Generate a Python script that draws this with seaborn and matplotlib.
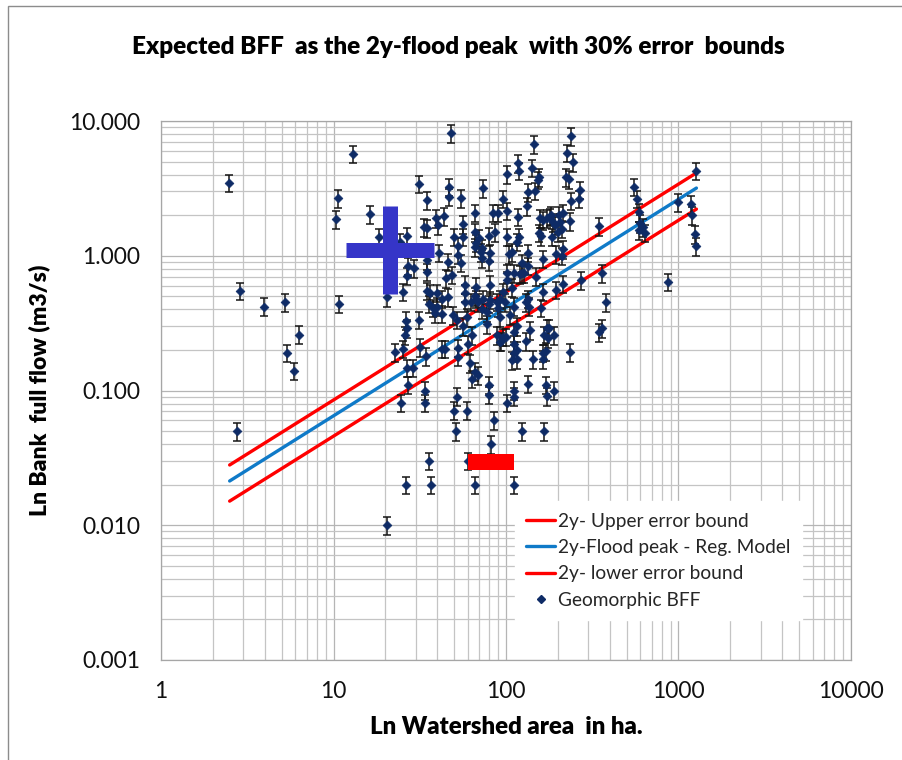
import numpy as np
import pandas as pd
import matplotlib
matplotlib.use('Agg')
import matplotlib.pyplot as plt
from matplotlib.patches import Rectangle
from matplotlib.lines import Line2D
import seaborn as sns

# Geomorphic bank-full flow observations (watershed area in ha, BFF in m3/s)
bff_area = [
    2.48, 2.87, 2.76, 3.95, 5.24, 5.4, 5.9, 6.3, 10.3, 10.6, 10.7, 13.0, 16.3, 18.4,
    20.4, 20.4, 22.7, 24.3, 24.6, 25.3, 25.3, 25.9, 26.3, 26.3, 26.7, 26.7, 26.7, 26.7,
    27.0, 27.0, 28.9, 29.3, 31.3, 31.3, 31.7, 33.5, 34.0, 34.0, 34.4, 34.8, 34.8, 34.8,
    34.8, 34.8, 36.4, 35.7, 35.7, 36.7, 37.7, 38.7, 39.3, 39.8, 40.0, 40.2, 40.9, 42.4,
    42.4, 42.4, 43.7, 44.3, 44.8, 46.0, 46.0, 46.8, 46.8, 48.0, 48.5, 49.0, 50.0, 50.0,
    51.0, 52.0, 52.0, 52.7, 52.7, 53.0, 53.0, 54.8, 54.8, 56.0, 56.0, 56.3, 57.6, 57.6,
    57.6, 59.4, 59.4, 60.0, 60.0, 61.7, 62.6, 63.3, 63.3, 66.0, 66.0, 66.0, 66.0, 66.0,
    66.0, 67.0, 67.0, 67.0, 68.6, 68.6, 69.6, 71.7, 72.7, 72.7, 72.7, 73.6, 73.6, 77.5,
    77.5, 79.6, 79.6, 79.6, 79.6, 79.6, 80.8, 80.8, 81.0, 81.7, 84.0, 85.0, 86.0, 88.7,
    88.7, 90.0, 90.0, 92.0, 92.0, 92.0, 94.0, 96.0, 96.0, 96.0, 98.5, 100, 101, 101,
    101, 101, 102, 102, 104, 105, 108, 109, 109, 111, 111, 111, 112, 112, 112, 112,
    112, 116, 116, 116, 116, 117, 117, 119, 119, 120, 123, 124, 124, 128, 130, 130,
    133, 134, 134, 134, 135, 135, 136, 138, 141, 143, 145, 147, 150, 153, 155, 155,
    157, 160, 160, 163, 163, 164, 164, 164, 166, 166, 170, 170, 172, 172, 172, 175,
    177, 179, 182, 184, 187, 190, 190, 192, 196, 196, 200, 202, 205, 210, 210, 213,
    213, 215, 222, 225, 232, 235, 235, 238, 238, 243, 264, 267, 271, 347, 347, 360,
    362, 380, 550, 573, 590, 590, 600, 620, 640, 870, 1000, 1180, 1200, 1240, 1260, 1260,
]
bff_flow = [
    3.47, 0.55, 0.050, 0.42, 0.45, 0.19, 0.14, 0.26, 1.87, 2.68, 0.44, 5.7, 2.04, 1.38,
    0.010, 0.49, 0.193, 1.26, 0.081, 0.54, 0.204, 0.258, 0.33, 0.020, 1.40, 0.71, 0.29, 0.147,
    0.84, 0.11, 0.147, 0.81, 3.41, 0.335, 0.21, 1.63, 0.10, 0.081, 0.18, 2.59, 1.60, 0.93,
    0.76, 0.55, 0.53, 0.44, 0.030, 0.020, 0.41, 0.375, 1.90, 0.42, 0.53, 1.69, 1.05, 0.48,
    0.37, 0.204, 1.97, 0.204, 0.68, 0.49, 0.90, 3.24, 2.73, 8.1, 0.72, 0.363, 1.38, 0.071,
    0.050, 0.335, 0.090, 1.18, 0.207, 1.02, 0.178, 2.68, 0.885, 1.38, 0.30, 1.72, 0.61, 0.45,
    0.53, 0.35, 0.071, 0.22, 0.030, 0.16, 0.454, 0.258, 0.122, 2.08, 1.50, 1.16, 0.50, 0.138,
    0.020, 0.59, 0.48, 1.25, 0.45, 0.13, 1.36, 1.06, 0.96, 1.14, 0.40, 3.18, 0.48, 0.31,
    0.38, 1.40, 0.914, 0.44, 0.11, 0.093, 0.61, 0.47, 1.05, 0.040, 2.08, 0.060, 1.50, 0.454,
    0.258, 2.08, 0.41, 0.48, 0.35, 0.23, 0.233, 2.64, 0.54, 0.25, 0.45, 0.25, 4.04, 2.15,
    0.74, 0.081, 1.38, 0.66, 1.03, 0.363, 1.06, 0.58, 0.168, 0.42, 0.27, 0.22, 0.74, 0.19,
    0.10, 0.09, 0.020, 1.27, 0.30, 0.20, 0.17, 4.87, 1.94, 4.26, 1.38, 0.73, 0.050, 0.885,
    0.74, 0.74, 0.45, 0.233, 2.34, 1.05, 0.84, 0.48, 2.97, 0.112, 0.42, 0.28, 4.49, 0.17,
    6.75, 3.03, 0.70, 3.65, 3.84, 1.48, 1.90, 1.40, 0.41, 0.19, 0.17, 1.84, 0.95, 0.54,
    0.258, 0.050, 0.196, 0.11, 1.90, 0.29, 0.091, 0.245, 0.29, 1.94, 2.0, 1.38, 1.78, 0.258,
    0.10, 1.69, 1.03, 0.56, 1.50, 2.0, 1.78, 1.58, 1.0, 2.08, 1.12, 0.62, 3.84, 5.8,
    3.70, 1.81, 0.193, 7.74, 2.55, 4.96, 2.64, 3.08, 0.66, 1.66, 0.27, 0.74, 0.29, 0.45,
    3.24, 2.64, 2.11, 1.55, 1.75, 1.63, 1.48, 0.64, 2.5, 2.42, 2.0, 1.45, 4.26, 1.18,
]
bff_err_frac = 0.15

# 2y flood peak regression model and 30% bounds (end points)
line_area = [2.5, 1270]
peak_model = [0.0213, 3.18]
upper_bound = [0.028, 4.12]
lower_bound = [0.0151, 2.22]

# highlighted markers
plus_area = [21.3]
plus_flow = [1.10]
rect_area = [82.4]
rect_flow = [0.0297]

x_ticks = [1, 10, 100, 1000, 10000]
x_labels = ['1', '10', '100', '1000', '10000']
y_ticks = [0.001, 0.01, 0.1, 1, 10]
y_labels = ['0.001', '0.010', '0.100', '1.000', '10.000']

sns.set_style('white')
plt.rcParams['font.family'] = ['Lato', 'DejaVu Sans']

fig = plt.figure(figsize=(9.03, 7.6), dpi=100)
ax = fig.add_axes([161 / 903, 100 / 760, 690 / 903, 539 / 760])
ax.set_xscale('log')
ax.set_yscale('log')
ax.set_xlim(1, 10000)
ax.set_ylim(0.001, 10)

# grid
ax.grid(True, which='major', color='#b5b5b5', lw=0.9)
ax.grid(True, which='minor', color='#c4c4c4', lw=0.9)
ax.set_axisbelow(True)

red = '#ff0000'
blue = '#0f7ac8'
navy = '#0e2b66'

sns.lineplot(x=line_area, y=upper_bound, color=red, lw=2.4, ax=ax, zorder=3)
sns.lineplot(x=line_area, y=peak_model, color=blue, lw=2.4, ax=ax, zorder=3)
sns.lineplot(x=line_area, y=lower_bound, color=red, lw=2.4, ax=ax, zorder=3)

df = pd.DataFrame({'area': bff_area, 'flow': bff_flow})
ax.errorbar(df['area'], df['flow'], yerr=bff_err_frac * df['flow'], fmt='none',
            ecolor='#151515', elinewidth=1.1, capsize=2.7, capthick=1.1, zorder=4)
sns.scatterplot(data=df, x='area', y='flow', marker='D', s=20, color=navy,
                edgecolor=navy, linewidth=0.5, ax=ax, zorder=5)

ax.plot(plus_area, plus_flow, ls='none', marker='+', ms=63, mew=10.8,
        color='#3535c8', zorder=6)
rect_marker = [(-3, -1), (3, -1), (3, 1), (-3, 1), (-3, -1)]
ax.plot(rect_area, rect_flow, ls='none', marker=rect_marker, ms=32.5,
        color=red, mec=red, mew=0, zorder=6)

ax.set_xticks(x_ticks)
ax.set_xticklabels(x_labels)
ax.set_yticks(y_ticks)
ax.set_yticklabels(y_labels)
ax.tick_params(axis='both', which='major', direction='out', length=6, width=0.8,
               color='#8c8c8c', labelsize=16.5, pad=9, labelcolor='#111111')
ax.tick_params(axis='x', which='minor', direction='out', length=4, width=0.8,
               color='#a0a0a0')
ax.tick_params(axis='y', which='minor', length=0)
ax.set_xlabel('')
ax.set_ylabel('')
for sp in ax.spines.values():
    sp.set_color('#a6a6a6')
    sp.set_linewidth(0.9)

# legend
handles = [
    Line2D([], [], color=red, lw=2.4),
    Line2D([], [], color=blue, lw=2.4),
    Line2D([], [], color=red, lw=2.4),
    Line2D([], [], ls='none', marker='D', ms=3.8, color=navy),
]
labels = ['2y- Upper error bound', '2y-Flood peak - Reg. Model',
          '2y- lower error bound', 'Geomorphic BFF']
leg = ax.legend(handles, labels, loc='upper left', bbox_to_anchor=(0.499, 0.312),
                fontsize=13.8, frameon=True, fancybox=False, framealpha=1,
                edgecolor='white', facecolor='white', handlelength=1.5,
                handletextpad=0.15, labelspacing=0.48, borderpad=0.6)
leg.set_zorder(7)

# titles
fig.text(0.508, 1 - 54 / 760, 'Expected BFF  as the 2y-flood peak  with 30% error  bounds',
         ha='center', va='baseline', fontsize=17.5, fontweight='heavy', color='#000000')
fig.text(0.561, 1 - 727 / 760, 'Ln Watershed area  in ha.', ha='center', va='center',
         fontsize=17.3, fontweight='heavy', color='#000000')
fig.text(0.044, 1 - 390 / 760, 'Ln Bank  full flow (m3/s)', ha='center', va='center',
         rotation=90, fontsize=16.5, fontweight='heavy', color='#000000')

# chart area border
fig.patches.append(Rectangle((8 / 903, -0.5), 2, 1.5 - 6 / 760, transform=fig.transFigure,
                             fill=False, edgecolor='#8c8c8c', lw=1.0))

fig.savefig('out.png', dpi=100)
